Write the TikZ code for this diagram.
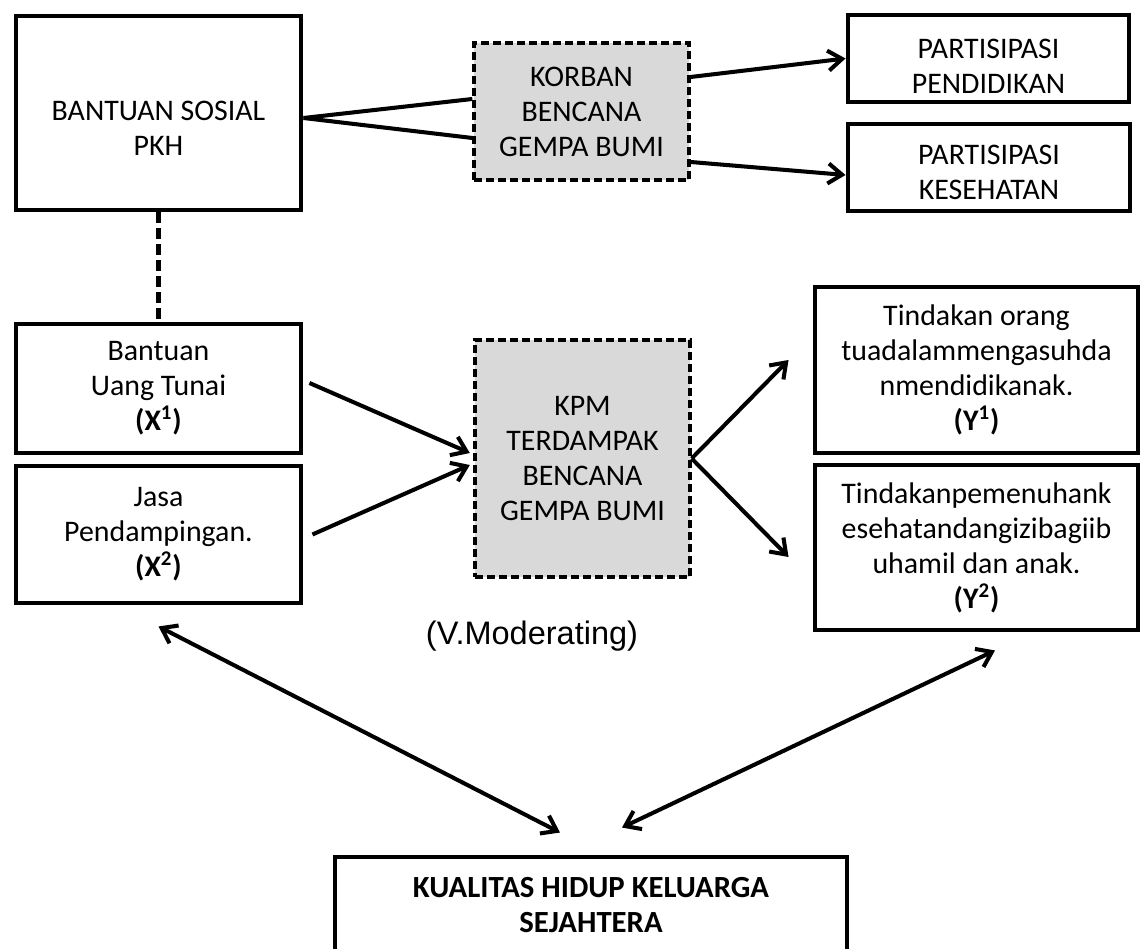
\documentclass[tikz,border=0pt]{standalone}
\usepackage{fontspec}
\setmainfont{Carlito}
\newfontfamily\arialfont{Liberation Sans}
\usetikzlibrary{arrows.meta}
\tikzset{
	box/.style={draw, line width=2.8pt, inner sep=0pt, align=center},
	dbox/.style={draw, line width=1.9pt, dash pattern=on 0.16cm off 0.08cm, fill=black!15, inner sep=0pt, align=center},
	txt/.style={align=center},
	link/.style={line width=2.3pt},
}

\begin{document}
\begin{tikzpicture}[>={Straight Barb[length=2.8mm,width=4mm]}, every node/.style={font=\fontsize{17}{19.9}\selectfont}]
			%%%%% START %%%%%
			\useasboundingbox (0, 0) rectangle (22.86, 18.96);
			
			\node[box, minimum width=5.70cm, minimum height=3.88cm] (bsos) at (3.17, 16.70) {};
			\node[txt] (bsostxt) at (3.17, 16.40) {BANTUAN SOSIAL\\PKH};
			
			\node[dbox, minimum width=4.30cm, minimum height=2.74cm] (korban) at (11.63, 16.73) {KORBAN\\BENCANA\\GEMPA BUMI};
			
			\node[box, minimum width=5.62cm, minimum height=1.74cm] (pend) at (19.77, 17.79) {};
			\node[txt] (pendtxt) at (19.77, 17.63) {PARTISIPASI\\PENDIDIKAN};
			\node[box, minimum width=5.64cm, minimum height=1.74cm] (kes) at (19.78, 15.61) {};
			\node[txt] (kestxt) at (19.78, 15.52) {PARTISIPASI\\KESEHATAN};
			
			\node[box, minimum width=5.70cm, minimum height=2.58cm] (x1) at (3.17, 11.19) {Bantuan\\Uang Tunai\\\textbf{(X\textsuperscript{1})}};
			\node[box, minimum width=5.70cm, minimum height=2.74cm] (x2) at (3.17, 8.27) {Jasa\\Pendampingan.\\\textbf{(X\textsuperscript{2})}};
			
			\node[dbox, minimum width=4.30cm, minimum height=4.74cm] (kpm) at (11.65, 9.79) {KPM\\TERDAMPAK\\BENCANA\\GEMPA BUMI};
			
			\node[box, minimum width=6.46cm, minimum height=3.32cm] (y1) at (19.53, 11.56) {Tindakan orang\\tuadalammengasuhda\\nmendidikanak.\\\textbf{(Y\textsuperscript{1})}};
			\node[box, minimum width=6.46cm, minimum height=3.30cm] (y2) at (19.53, 8.01) {Tindakanpemenuhank\\esehatandangizibagiib\\uhamil dan anak.\\\textbf{(Y\textsuperscript{2})}};
			
			\node[font=\arialfont\fontsize{18.5}{21}\selectfont] (vmod) at (10.64, 6.24) {(V.Moderating)};
			
			\node[box, minimum width=10.24cm, minimum height=1.94cm, font=\fontsize{17.5}{19.9}\selectfont\bfseries] (kual) at (11.82, 0.85) {KUALITAS HIDUP KELUARGA\\SEJAHTERA};
			
			\draw[link] ([yshift=-0.1cm]bsos.east) -- ([yshift=0.25cm]korban.west);
			\draw[link] ([yshift=-0.1cm]bsos.east) -- ([yshift=-0.53cm]korban.west);
			\draw[link, ->] ([yshift=0.69cm]korban.east) -- (pend.west);
			\draw[link, ->] ([yshift=-1.01cm]korban.east) -- ([yshift=-0.15cm]kes.west);
			
			\draw[link, dash pattern=on 0.22cm off 0.1cm] (bsos.south) -- (x1.north);
			
			\draw[link, ->] ([xshift=0.12cm, yshift=0.11cm]x1.east) -- ([xshift=-0.07cm, yshift=0.11cm]kpm.west);
			\draw[link, ->] ([xshift=0.18cm]x2.east) -- ([xshift=-0.07cm, yshift=-0.13cm]kpm.west);
			\draw[link, ->] (kpm.east) -- ([xshift=-0.48cm, yshift=0.2cm]y1.west);
			\draw[link, ->] (kpm.east) -- ([xshift=-0.48cm, yshift=-0.19cm]y2.west);
			
			\draw[link, <->] ([yshift=-0.42cm]x2.south) -- ([xshift=-0.62cm, yshift=0.44cm]kual.north);
			\draw[link, <->] ([xshift=0.37cm, yshift=-0.36cm]y2.south) -- ([xshift=0.62cm, yshift=0.54cm]kual.north);
			%%%%% END %%%%%
\end{tikzpicture}
\end{document}
